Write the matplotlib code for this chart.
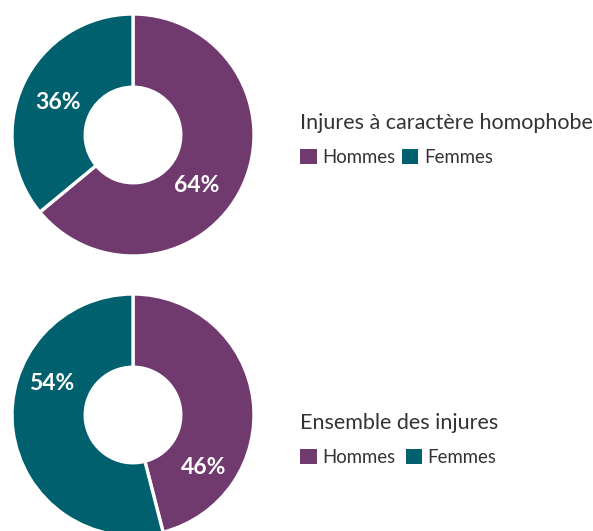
import matplotlib.pyplot as plt
from matplotlib.patches import Patch

plt.rcParams['font.family'] = ['Lato', 'DejaVu Sans']

W, H = 593, 531

groups = ['Hommes', 'Femmes']
colors = ['#703A6F', '#00606D']
titles = ['Injures à caractère homophobe', 'Ensemble des injures']
shares = [[64, 36], [46, 54]]
text_col = '#333333'

# donut centre (px from top), label spots in radius units
centres = [(133, 135), (133, 415)]
label_pos = [[(0.53, -0.42), (-0.62, 0.27)],
             [(0.58, -0.43), (-0.67, 0.26)]]
legend_top = [106, 406]
col_gap = [0.35, 0.55]
R = 121

fig = plt.figure(figsize=(W / 100, H / 100), dpi=100)

for k in range(2):
    cx, cy = centres[k]
    ax = fig.add_axes([(cx - R) / W, (H - cy - R) / H, 2 * R / W, 2 * R / H])
    wedges, _ = ax.pie(shares[k], colors=colors, startangle=90, counterclock=False,
                       radius=1, wedgeprops=dict(width=0.605, edgecolor='white', linewidth=2.4))
    ax.set_xlim(-1, 1)
    ax.set_ylim(-1, 1)
    ax.set_aspect('equal')
    ax.axis('off')
    for v, (x, y) in zip(shares[k], label_pos[k]):
        ax.text(x, y, '{}%'.format(v), color='white', fontsize=16.5, fontweight='bold',
                ha='center', va='center')

    handles = [Patch(facecolor=c, edgecolor='none') for c in colors]
    leg = fig.legend(handles, groups, loc='upper left',
                     bbox_to_anchor=(293 / W, 1 - legend_top[k] / H),
                     ncol=2, frameon=False, title=titles[k],
                     title_fontsize=15.5, fontsize=13.4,
                     alignment='left', handlelength=0.88, handleheight=0.88,
                     handletextpad=0.3, columnspacing=col_gap[k], labelspacing=0.85,
                     borderaxespad=0)
    leg.get_title().set_color(text_col)
    for t in leg.get_texts():
        t.set_color(text_col)

fig.savefig('out.png', dpi=100)
